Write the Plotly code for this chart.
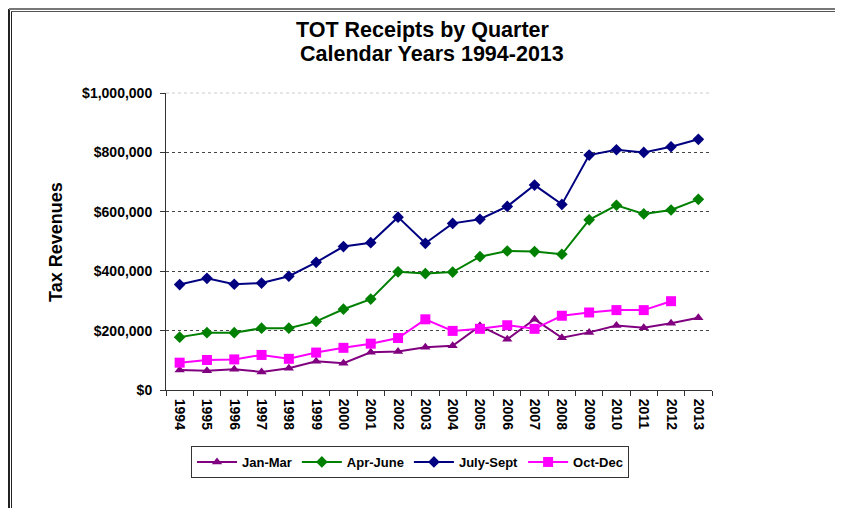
import plotly.graph_objects as go

years = [str(y) for y in range(1994, 2014)]

jan_mar = [67000, 65000, 70000, 61000, 73000, 97000, 90000, 127000, 130000, 144000,
           149000, 216000, 171000, 238000, 176000, 194000, 217000, 210000, 225000, 243000]
apr_june = [178000, 193000, 193000, 208000, 208000, 231000, 272000, 306000, 398000, 392000,
            397000, 449000, 468000, 466000, 457000, 573000, 622000, 593000, 606000, 642000]
july_sept = [355000, 376000, 356000, 360000, 383000, 430000, 483000, 496000, 582000, 494000,
             561000, 575000, 618000, 690000, 625000, 791000, 809000, 800000, 819000, 844000]
oct_dec = [92000, 101000, 103000, 118000, 105000, 126000, 142000, 156000, 175000, 238000,
           199000, 206000, 218000, 206000, 250000, 261000, 269000, 269000, 299000, None]

# page body has an 8px margin, so the figure is drawn offset by (8, 8)
OFF = 8
W, H = 843 - OFF, 508 - OFF
L, R, T, B = 166 - OFF, 712 - OFF, 93 - OFF, 390 - OFF  # plot area in figure pixels

def px(x):
    return (x - OFF - L) / (R - L)

def py(y):
    return (B - (y - OFF)) / (B - T)

series = [
    ("Jan-Mar", jan_mar, "#800080", "triangle-up", 9),
    ("Apr-June", apr_june, "#008000", "diamond", 9),
    ("July-Sept", july_sept, "#000080", "diamond", 9),
    ("Oct-Dec", oct_dec, "#FF00FF", "square", 10),
]

fig = go.Figure()
for name, vals, col, sym, sz in series:
    fig.add_trace(go.Scatter(
        x=years, y=vals, name=name, mode="lines+markers",
        line=dict(color=col, width=2),
        marker=dict(symbol=sym, size=sz, color=col),
    ))

font = "Liberation Sans, Arial, sans-serif"
fig.update_layout(
    width=W, height=H,
    margin=dict(l=L, r=W - R, t=T, b=H - B),
    paper_bgcolor="white", plot_bgcolor="white",
    font=dict(family=font, color="black"),
    xaxis=dict(type="category", range=[-0.5, 19.5], tickangle=90,
               ticks="outside", tickson="boundaries", ticklen=5, tickcolor="#333",
               ticklabelstandoff=5,
               showline=True, linecolor="#333", linewidth=1, showgrid=False,
               tickfont=dict(size=14, family=font, color="black", weight="bold"),
               fixedrange=True),
    yaxis=dict(range=[0, 1000000], dtick=200000, tickprefix="$", tickformat=",d",
               ticks="outside", ticklen=5, tickcolor="#333", ticklabelstandoff=5,
               showline=True, linecolor="#333", linewidth=1,
               showgrid=True, gridcolor="#444", griddash="dot", gridwidth=1,
               zeroline=False,
               tickfont=dict(size=14, family=font, color="black", weight="bold")),
    legend=dict(orientation="h", x=px(410), xanchor="center", y=py(462), yanchor="middle",
                bordercolor="#333", borderwidth=1, bgcolor="white",
                font=dict(size=13, family=font, weight="bold"), itemwidth=40,
                tracegroupgap=0),
    showlegend=True,
)

# title lines and axis title
fig.add_annotation(text="<b>TOT Receipts by Quarter</b>", xref="paper", yref="paper",
                   x=px(423), y=py(30), xanchor="center", yanchor="middle",
                   showarrow=False, font=dict(size=21.5, family=font))
fig.add_annotation(text="<b>Calendar Years 1994-2013</b>", xref="paper", yref="paper",
                   x=px(432), y=py(54), xanchor="center", yanchor="middle",
                   showarrow=False, font=dict(size=21.5, family=font))
fig.add_annotation(text="<b>Tax Revenues</b>", xref="paper", yref="paper",
                   x=px(56), y=py(242), xanchor="center", yanchor="middle", textangle=-90,
                   showarrow=False, font=dict(size=18, family=font))

# frame around the chart
shapes = [
    dict(type="line", xref="paper", yref="paper", x0=px(9), x1=px(9), y0=py(9), y1=py(508),
         line=dict(color="#222", width=2)),
    dict(type="line", xref="paper", yref="paper", x0=px(11.5), x1=px(11.5), y0=py(11), y1=py(508),
         line=dict(color="#222", width=1)),
    dict(type="line", xref="paper", yref="paper", x0=px(9), x1=px(837), y0=py(9), y1=py(9),
         line=dict(color="#777", width=2)),
    dict(type="line", xref="paper", yref="paper", x0=px(11), x1=px(836), y0=py(11.5), y1=py(11.5),
         line=dict(color="#555", width=1)),
    dict(type="line", xref="paper", yref="paper", x0=px(836.5), x1=px(836.5), y0=py(9), y1=py(508),
         line=dict(color="#222", width=1)),
    dict(type="rect", xref="paper", yref="paper", x0=px(838), x1=px(843), y0=py(14), y1=py(508),
         line=dict(width=0), fillcolor="#333"),
    # light top gridline
    dict(type="line", xref="paper", yref="paper", x0=0, x1=1, y0=1, y1=1,
         line=dict(color="#ccc", width=1, dash="dot")),
]
fig.update_layout(shapes=shapes)

fig.write_html("out.html")
